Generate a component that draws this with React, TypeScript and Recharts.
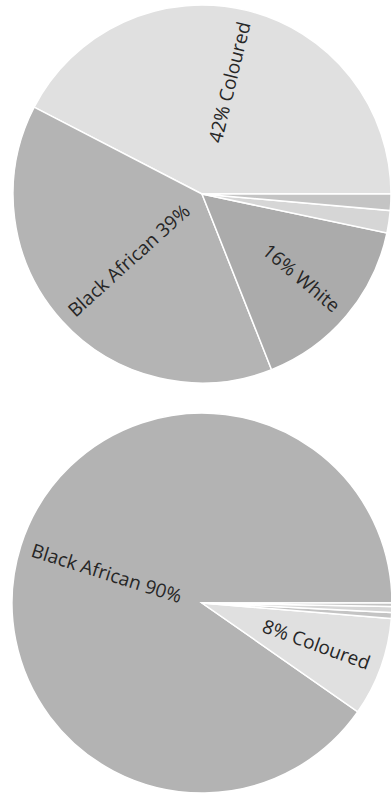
import React from "react";
import { PieChart, Pie, Cell } from "recharts";

// Top pie
const topNames = ["Coloured", "Black African", "White", "Other", "Indian/Asian"];
const topValues = [42.4, 38.6, 15.7, 1.9, 1.4];
const topColors = ["#e0e0e0", "#b4b4b4", "#ababab", "#d6d6d6", "#c4c4c4"];

// Bottom pie
const bottomNames = ["Black African", "Coloured", "White", "Other", "Indian/Asian"];
const bottomValues = [90.3, 8.4, 0.5, 0.5, 0.3];
const bottomColors = ["#b3b3b3", "#e0e0e0", "#c4c4c4", "#d6d6d6", "#c4c4c4"];

const MIN_LABEL_PERCENT = 0.05;

const topData = topNames.map((name, i) => ({ name, value: topValues[i] }));
const bottomData = bottomNames.map((name, i) => ({ name, value: bottomValues[i] }));

const RAD = Math.PI / 180;

const renderLabel = (props: any) => {
  const { cx, cy, midAngle, outerRadius, percent, name } = props;
  if (percent < MIN_LABEL_PERCENT) return null;
  const r = outerRadius - 12;
  const x = cx + r * Math.cos(-midAngle * RAD);
  const y = cy + r * Math.sin(-midAngle * RAD);
  const pct = Math.round(percent * 100);
  const rightSide = Math.cos(midAngle * RAD) >= 0;
  const rot = rightSide ? -midAngle : -midAngle + 180;
  const text = rightSide ? `${pct}% ${name}` : `${name} ${pct}%`;
  return (
    <text
      x={x}
      y={y}
      transform={`rotate(${rot}, ${x}, ${y})`}
      textAnchor={rightSide ? "end" : "start"}
      dominantBaseline="central"
      fill="#262626"
      fontSize={19}
      fontFamily="'Open Sans', 'Noto Sans', sans-serif"
    >
      {text}
    </text>
  );
};

export default function App() {
  return (
    <div style={{ position: "absolute", left: 0, top: 0, width: 391, height: 796, background: "#fff" }}>
      <PieChart
        width={391}
        height={796}
        margin={{ top: 0, right: 0, bottom: 0, left: 0 }}
        style={{ overflow: "visible" }}
      >
        <Pie
          data={topData}
          dataKey="value"
          nameKey="name"
          cx={202}
          cy={194}
          outerRadius={189}
          startAngle={0}
          endAngle={360}
          stroke="#ffffff"
          strokeWidth={1.5}
          label={renderLabel}
          labelLine={false}
          isAnimationActive={false}
        >
          {topData.map((d, i) => (
            <Cell key={d.name} fill={topColors[i]} />
          ))}
        </Pie>
        <Pie
          data={bottomData}
          dataKey="value"
          nameKey="name"
          cx={202}
          cy={603}
          outerRadius={190}
          startAngle={0}
          endAngle={360}
          stroke="#ffffff"
          strokeWidth={1.5}
          label={renderLabel}
          labelLine={false}
          isAnimationActive={false}
        >
          {bottomData.map((d, i) => (
            <Cell key={d.name} fill={bottomColors[i]} />
          ))}
        </Pie>
      </PieChart>
    </div>
  );
}
